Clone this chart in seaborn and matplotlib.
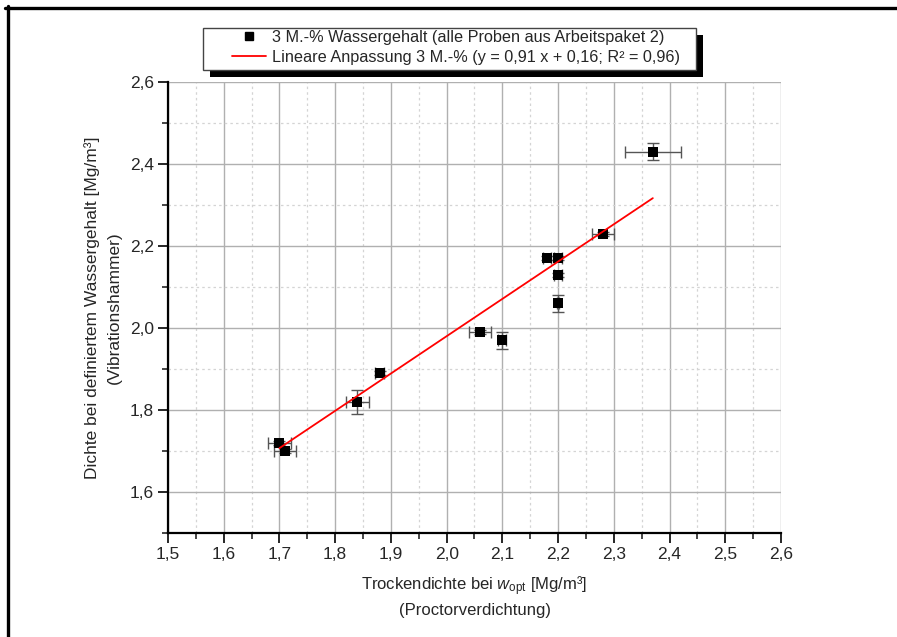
import numpy as np
import pandas as pd
import matplotlib
matplotlib.use("Agg")
import matplotlib.pyplot as plt
from matplotlib.lines import Line2D
from matplotlib.patches import Rectangle
from matplotlib.ticker import MultipleLocator, FuncFormatter
import seaborn as sns

# Measured densities (Proctor vs. vibration hammer), 3 M.-% water content
trockendichte = [1.70, 1.71, 1.84, 1.88, 2.06, 2.10, 2.18, 2.20, 2.20, 2.20, 2.28, 2.37]
dichte_vibration = [1.72, 1.70, 1.82, 1.89, 1.99, 1.97, 2.17, 2.17, 2.13, 2.06, 2.23, 2.43]
fehler_x = [0.02, 0.02, 0.02, 0.008, 0.02, 0.007, 0.007, 0.007, 0.007, 0.002, 0.02, 0.05]
fehler_y = [0.005, 0.005, 0.03, 0.005, 0.005, 0.02, 0.005, 0.005, 0.005, 0.02, 0.005, 0.02]

# Linear fit parameters
steigung = 0.91
achsenabschnitt = 0.16
fit_bereich = [1.70, 2.37]

legend_punkte = "3 M.-% Wassergehalt (alle Proben aus Arbeitspaket 2)"
legend_fit = "Lineare Anpassung 3 M.-% (y = 0,91 x + 0,16; R\u00b2 = 0,96)"

sns.set_style("ticks")
plt.rcParams["font.family"] = ["Liberation Sans", "DejaVu Sans"]
plt.rcParams["mathtext.fontset"] = "custom"
plt.rcParams["mathtext.rm"] = "Liberation Sans"
plt.rcParams["mathtext.it"] = "Liberation Sans:italic"

df = pd.DataFrame({"x": trockendichte, "y": dichte_vibration})
fit_x = np.array(fit_bereich)
fit_df = pd.DataFrame({"x": fit_x, "y": steigung * fit_x + achsenabschnitt})

W, H = 897, 637
fig = plt.figure(figsize=(W / 100, H / 100), dpi=100)
ax = fig.add_axes([168 / W, 1 - 533 / H, (781 - 168) / W, (533 - 82) / H])

ax.set_xlim(1.5, 2.6)
ax.set_ylim(1.5, 2.6)

# grid
ax.xaxis.set_major_locator(MultipleLocator(0.1))
ax.xaxis.set_minor_locator(MultipleLocator(0.05))
ax.yaxis.set_major_locator(MultipleLocator(0.2))
ax.yaxis.set_minor_locator(MultipleLocator(0.1))
ax.grid(which="major", color="#b0b0b0", lw=1.0, ls="-")
ax.grid(which="minor", color="#d4d4d4", lw=0.9, ls=(0, (2, 2.5)))
ax.set_axisbelow(True)

ax.errorbar(trockendichte, dichte_vibration, xerr=fehler_x, yerr=fehler_y,
            fmt="none", ecolor="#555555", elinewidth=1.0, capsize=4, capthick=1.0, zorder=3)
sns.scatterplot(data=df, x="x", y="y", marker="s", s=45, color="black",
                edgecolor="black", linewidth=0, ax=ax, zorder=4, legend=False)
sns.lineplot(data=fit_df, x="x", y="y", color="#ff0000", lw=1.3, ax=ax, zorder=5, legend=False)

fmt = FuncFormatter(lambda v, p: f"{v:.1f}".replace(".", ","))
ax.xaxis.set_major_formatter(fmt)
ax.yaxis.set_major_formatter(fmt)

for s in ["top", "right"]:
    ax.spines[s].set_visible(False)
for s in ["left", "bottom"]:
    ax.spines[s].set_linewidth(1.6)
    ax.spines[s].set_color("black")
ax.tick_params(which="major", direction="out", length=7, width=1.4, labelsize=12.5, pad=3)
ax.tick_params(which="minor", direction="out", length=4, width=1.2)

ax.set_xlabel("Trockendichte bei $w_{\\mathrm{opt}}$ [Mg/m\u00b3]\n(Proctorverdichtung)",
              fontsize=12, labelpad=9, linespacing=1.45)
ax.set_ylabel("Dichte bei definiertem Wassergehalt [Mg/m\u00b3]\n(Vibrationshammer)",
              fontsize=12.5, labelpad=6, linespacing=1.55)

# legend box with drop shadow
bx0, by0, bx1, by1 = 203, 28, 696, 70
sh = 7
fig.add_artist(Rectangle(((bx0 + sh) / W, 1 - (by1 + sh) / H), (bx1 - bx0) / W, (by1 - by0) / H,
                         transform=fig.transFigure, facecolor="black", edgecolor="none", zorder=10))
fig.add_artist(Rectangle((bx0 / W, 1 - by1 / H), (bx1 - bx0) / W, (by1 - by0) / H,
                         transform=fig.transFigure, facecolor="white", edgecolor="#444444",
                         lw=1.0, zorder=11))

handles = [
    Line2D([], [], marker="s", color="black", ls="none", markersize=6),
    Line2D([], [], color="#ff0000", lw=1.3),
]
leg = fig.legend(handles, [legend_punkte, legend_fit], loc="upper left",
                 bbox_to_anchor=(232 / W, 1 - 30 / H), fontsize=11.7,
                 frameon=False, handlelength=2.1, handletextpad=0.37,
                 borderpad=0, borderaxespad=0, labelspacing=0.28)
leg.set_zorder(12)

# outer frame lines (top and left)
fig.add_artist(Line2D([5 / W, 1.0], [1 - 7.5 / H, 1 - 7.5 / H],
                      transform=fig.transFigure, color="black", lw=2.4))
fig.add_artist(Line2D([7.5 / W, 7.5 / W], [0.0, 1 - 6 / H],
                      transform=fig.transFigure, color="black", lw=2.4))

fig.savefig("out.png", dpi=100)
